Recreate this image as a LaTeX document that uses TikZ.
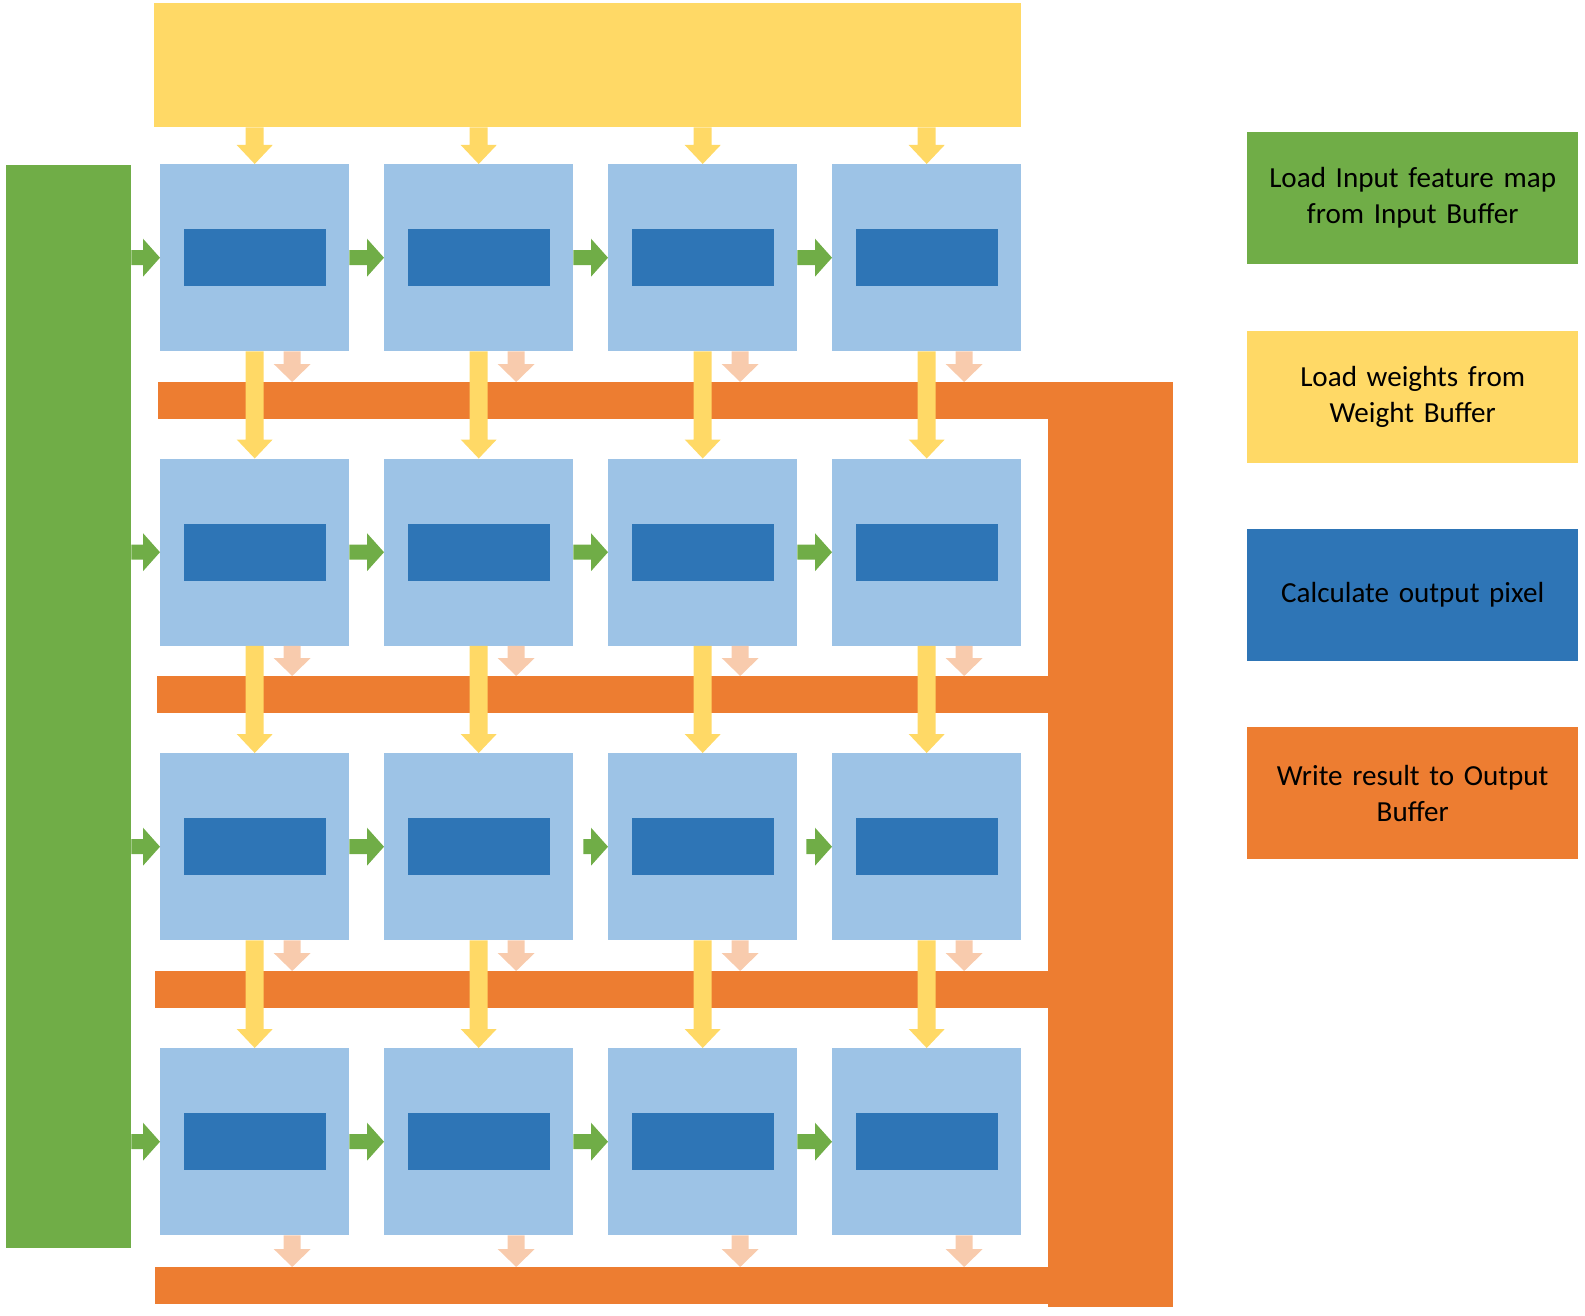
\documentclass[tikz,border=0pt]{standalone}
\usepackage{fontspec}
\setmainfont{Carlito}
\usetikzlibrary{calc}

\definecolor{wyellow}{HTML}{FFD966}
\definecolor{igreen}{HTML}{70AD47}
\definecolor{pelight}{HTML}{9DC3E6}
\definecolor{pedark}{HTML}{2E75B6}
\definecolor{oorange}{HTML}{ED7D31}
\definecolor{opeach}{HTML}{F8CBAD}

% block arrow pointing down: colour, start, tip, half shaft, half head, head length
\newcommand\blockdown[6]{%
  \fill[#1] let \p1=(#2), \p2=(#3) in
    (\x1-#4pt,\y1) -- (\x1+#4pt,\y1) -- (\x1+#4pt,\y2+#6pt) -- (\x1+#5pt,\y2+#6pt)
    -- (\x1,\y2) -- (\x1-#5pt,\y2+#6pt) -- (\x1-#4pt,\y2+#6pt) -- cycle;}
% block arrow pointing right: colour, start, tip, half shaft, half head, head length
\newcommand\blockright[6]{%
  \fill[#1] let \p1=(#2), \p2=(#3) in
    (\x1,\y1-#4pt) -- (\x2-#6pt,\y1-#4pt) -- (\x2-#6pt,\y1-#5pt) -- (\x2,\y1)
    -- (\x2-#6pt,\y1+#5pt) -- (\x2-#6pt,\y1+#4pt) -- (\x1,\y1+#4pt) -- cycle;}

\tikzset{
  bar/.style={inner sep=0pt, anchor=north west},
  pebox/.style={fill=pelight, inner sep=0pt, minimum width=189pt, minimum height=187pt, anchor=north west},
  macbox/.style={fill=pedark, inner sep=0pt, minimum width=142pt, minimum height=57pt},
  legend/.style={inner sep=0pt, minimum width=331pt, minimum height=132pt, anchor=north west,
    align=center, text width=320pt, font=\fontsize{29.1}{36}\selectfont},
}

\begin{document}
\begin{tikzpicture}[x=1pt,y=-1pt]
\useasboundingbox (0,0) rectangle (1585,1316);

% buffers
\node[bar, fill=wyellow, minimum width=867pt, minimum height=124pt] (wbuf) at (154,3) {};
\node[bar, fill=igreen, minimum width=125pt, minimum height=1083pt] (ibuf) at (6,165) {};

% output buffer: vertical collector and one horizontal bar below each row
\node[bar, fill=oorange, minimum width=125pt, minimum height=925pt] (obv) at (1048,382) {};
\node[bar, fill=oorange, minimum width=890pt, minimum height=37pt] (ob0) at (158,382) {};
\node[bar, fill=oorange, minimum width=891pt, minimum height=37pt] (ob1) at (157,676) {};
\node[bar, fill=oorange, minimum width=893pt, minimum height=37pt] (ob2) at (155,971) {};
\node[bar, fill=oorange, minimum width=893pt, minimum height=37pt] (ob3) at (155,1267) {};

% processing elements
\foreach \r/\ty in {0/164, 1/458.5, 2/753, 3/1048} {
  \foreach \c/\lx in {0/160, 1/384, 2/608, 3/832} {
    \node[pebox] (p\r\c) at (\lx,\ty) {};
    \node[macbox] (m\r\c) at (p\r\c.center) {};
  }
}

% start points of the horizontal links (third row starts a little later)
\foreach \r in {0,1,2,3} {
  \coordinate (g\r0) at (ibuf.east |- p\r0.west);
  \foreach \c/\cn in {0/1,1/2,2/3} {
    \coordinate (g\r\cn) at (p\r\c.east);
  }
}
\coordinate (g22) at ($(p21.east)+(10,0)$);
\coordinate (g23) at ($(p22.east)+(9,0)$);

% input feature map flow (left to right)
\foreach \r in {0,1,2,3} {
  \foreach \c in {0,1,2,3} {
    \blockright{igreen}{g\r\c}{p\r\c.west}{7.5}{19}{17}
  }
}

% results to output buffer
\foreach \r in {0,1,2,3} {
  \foreach \c in {0,1,2,3} {
    \coordinate (k\r\c) at ($(p\r\c.south)+(37.5,0)$);
    \coordinate (e\r\c) at (k\r\c |- ob\r.north);
    \blockdown{opeach}{k\r\c}{e\r\c}{8.5}{18.5}{18}
  }
}

% weights flow (top to bottom)
\foreach \c in {0,1,2,3} {
  \coordinate (w\c) at (p0\c.north |- wbuf.south);
  \blockdown{wyellow}{w\c}{p0\c.north}{9}{18}{19}
  \foreach \r/\rn in {0/1,1/2,2/3} {
    \blockdown{wyellow}{p\r\c.south}{p\rn\c.north}{9}{18}{19}
  }
}

% legend
\node[legend, fill=igreen] (lg) at (1247,132) {Load Input feature map\\from Input Buffer};
\node[legend, fill=wyellow] (ly) at (1247,331) {Load weights from\\Weight Buffer};
\node[legend, fill=pedark] (lb) at (1247,529) {Calculate output pixel};
\node[legend, fill=oorange] (lo) at (1247,727) {Write result to Output\\Buffer};
\end{tikzpicture}
\end{document}
